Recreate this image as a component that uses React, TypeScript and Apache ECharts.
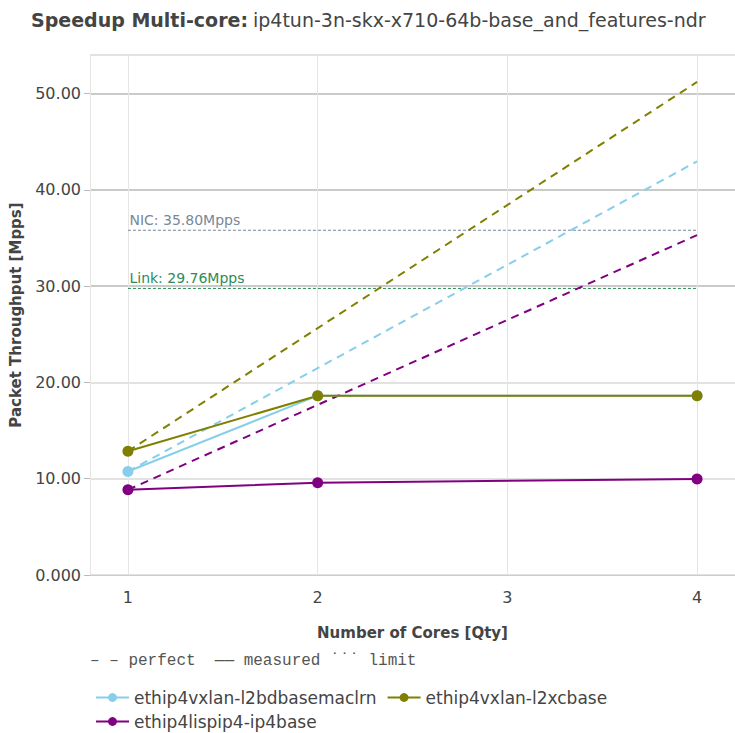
import React, { useEffect, useRef } from "react";
import * as echarts from "echarts";

const cores = [1, 2, 4];
const perfectCores = [1, 4];
const seriesNames = [
  "ethip4vxlan-l2bdbasemaclrn",
  "ethip4vxlan-l2xcbase",
  "ethip4lispip4-ip4base",
];
const seriesColors = ["#87CEEB", "#808000", "#800080"];
const measured = [
  [10.75, 18.62, 18.62],
  [12.85, 18.62, 18.62],
  [8.85, 9.58, 9.98],
];
const perfect = [
  [10.75, 42.95],
  [12.85, 51.2],
  [8.85, 35.3],
];
const limitNames = ["NIC", "Link"];
const limitValues = [35.8, 29.76];
const limitColors = ["#778899", "#2E8B57"];
const xTicks = [1, 2, 3, 4];

const FONT = "DejaVu Sans";

export default function App() {
  const ref = useRef<HTMLDivElement>(null);
  useEffect(() => {
    document.body.style.margin = "0";
    const chart = echarts.init(ref.current!, null, { renderer: "svg" });

    const series: any[] = [];
    seriesNames.forEach((name, i) => {
      series.push({
        name: name + " perfect",
        type: "line",
        data: perfectCores.map((c, j) => [c, perfect[i][j]]),
        symbol: "none",
        lineStyle: { color: seriesColors[i], width: 2, type: [8, 6] },
        z: 2,
        silent: true,
      });
    });
    limitNames.forEach((n, i) => {
      series.push({
        name: n,
        type: "line",
        data: [
          {
            value: [1, limitValues[i]],
            label: {
              show: true,
              position: "right",
              distance: 0,
              offset: [1, -10],
              formatter: `${n}: ${limitValues[i].toFixed(2)}Mpps`,
              color: limitColors[i],
              fontFamily: FONT,
              fontSize: 14,
            },
          },
          [4, limitValues[i]],
        ],
        symbol: "circle",
        symbolSize: 1,
        itemStyle: { color: "rgba(0,0,0,0)" },
        lineStyle: { color: limitColors[i], width: 1, type: [3, 2] },
        z: 1,
        silent: true,
      });
    });
    seriesNames.forEach((name, i) => {
      series.push({
        name,
        type: "line",
        data: cores.map((c, j) => [c, measured[i][j]]),
        symbol: "circle",
        symbolSize: 11,
        itemStyle: { color: seriesColors[i] },
        lineStyle: { color: seriesColors[i], width: 2 },
        z: 3,
      });
    });

    const legendCommon = {
      orient: "horizontal",
      padding: 0,
      itemWidth: 33,
      itemHeight: 11,
      itemGap: 10,
      textStyle: { fontFamily: FONT, fontSize: 17, color: "#444" },
    };

    chart.setOption({
      animation: false,
      backgroundColor: "#fff",
      title: {
        text: "{b|Speedup Multi-core:} {r|ip4tun-3n-skx-x710-64b-base_and_features-ndr}",
        left: 31,
        top: 10,
        padding: 0,
        textStyle: {
          rich: {
            b: { fontFamily: FONT, fontWeight: "bold", fontSize: 19, color: "#444" },
            r: { fontFamily: FONT, fontWeight: "normal", fontSize: 19, color: "#444" },
          },
        },
      },
      grid: { left: 89, top: 55, right: 0, bottom: 158, containLabel: false },
      xAxis: {
        type: "value",
        min: 0.8,
        max: 4.2,
        name: "Number of Cores [Qty]",
        nameLocation: "middle",
        nameGap: 50,
        nameTextStyle: { fontFamily: FONT, fontWeight: "bold", fontSize: 15, color: "#444" },
        axisLine: { show: true, lineStyle: { color: "#cccccc", width: 1 } },
        axisTick: { show: false, customValues: xTicks },
        axisLabel: {
          customValues: xTicks,
          fontFamily: FONT,
          fontSize: 16,
          color: "#444",
          margin: 14,
          formatter: (v: number) => String(v),
        },
        splitLine: { show: true, lineStyle: { color: "#e5e5e5", width: 1 } },
      },
      yAxis: {
        type: "value",
        min: 0,
        max: 54,
        interval: 10,
        name: "Packet Throughput [Mpps]",
        nameLocation: "middle",
        nameGap: 67,
        nameTextStyle: { fontFamily: FONT, fontWeight: "bold", fontSize: 15, color: "#444" },
        axisLine: { show: true, lineStyle: { color: "#e5e5e5", width: 1 } },
        axisTick: { show: true, length: 6, lineStyle: { color: "#bbbbbb" } },
        axisLabel: {
          fontFamily: FONT,
          fontSize: 16,
          color: "#444",
          margin: 9,
          formatter: (v: number) => (v === 0 ? "0.000" : v.toFixed(2)),
          showMaxLabel: false,
        },
        splitLine: {
          show: true,
          lineStyle: {
            color: ["#d9d9d9", "#d9d9d9", "#d9d9d9", "#b9b9b9", "#b9b9b9", "#b9b9b9"],
            width: 1.5,
          },
        },
      },
      legend: [
        { ...legendCommon, left: 95, top: 689, data: [seriesNames[0], seriesNames[1]] },
        { ...legendCommon, left: 95, top: 713, data: [seriesNames[2]] },
      ],
      graphic: [
        {
          type: "text",
          left: 90,
          top: 653,
          style: {
            text: "\u2013 \u2013 perfect  \u2014\u2014 measured \u02D9\u02D9\u02D9 limit",
            fontFamily: "Liberation Mono",
            fontSize: 16,
            fill: "#555",
          },
        },
      ],
      series,
    });
    return () => chart.dispose();
  }, []);
  return <div ref={ref} style={{ width: 735, height: 733 }} />;
}
